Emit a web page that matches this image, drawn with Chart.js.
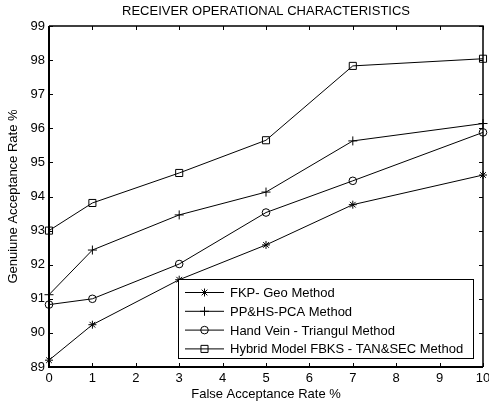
<!DOCTYPE html>
<html>
<head>
<meta charset="utf-8">
<script src="https://cdn.jsdelivr.net/npm/chart.js@4/dist/chart.umd.min.js"></script>
<style>
html,body{margin:0;padding:0;background:#fff;}
#wrap{width:489px;height:405px;position:relative;}
</style>
</head>
<body>
<div id="wrap"><canvas id="c" width="489" height="405"></canvas></div>
<script>
const xValues = [0, 1, 3, 5, 7, 10];
const fkpGeo = [89.2, 90.24, 91.56, 92.58, 93.76, 94.63];
const ppHsPca = [91.12, 92.43, 93.46, 94.13, 95.63, 96.14];
const handVein = [90.83, 91.0, 92.02, 93.53, 94.46, 95.88];
const hybrid = [93.0, 93.81, 94.69, 95.65, 97.83, 98.04];
const seriesLabels = ['FKP- Geo Method', 'PP&HS-PCA Method', 'Hand Vein - Triangul Method', 'Hybrid Model FBKS - TAN&SEC Method'];
const seriesStyles = ['star', 'cross', 'circle', 'rect'];
const xTicks = [0,1,2,3,4,5,6,7,8,9,10];
const yTicks = [89,90,91,92,93,94,95,96,97,98,99];
const titleText = 'RECEIVER OPERATIONAL CHARACTERISTICS';
const FONT = 'Arial, "Liberation Sans", sans-serif';

const seriesData = [fkpGeo, ppHsPca, handVein, hybrid];
const radii = [4, 4.5, 3.8, 5];

const datasets = seriesData.map((vals, i) => ({
  label: seriesLabels[i],
  data: xValues.map((x, j) => ({x: x, y: vals[j]})),
  borderColor: '#000',
  borderWidth: 1,
  pointStyle: seriesStyles[i],
  pointRadius: radii[i],
  pointBorderColor: '#000',
  pointBorderWidth: 1,
  pointBackgroundColor: 'rgba(0,0,0,0)',
  fill: false,
  tension: 0,
  clip: false
}));

const framePlugin = {
  id: 'frame',
  afterDraw(chart) {
    const ctx = chart.ctx;
    const a = chart.chartArea;
    const xs = chart.scales.x, ys = chart.scales.y;
    ctx.save();
    ctx.strokeStyle = '#000';
    ctx.lineWidth = 1;
    ctx.beginPath();
    xTicks.forEach(t => {
      const px = Math.round(xs.getPixelForValue(t)) + 0.5;
      ctx.moveTo(px, a.bottom); ctx.lineTo(px, a.bottom - 4);
      ctx.moveTo(px, a.top); ctx.lineTo(px, a.top + 4);
    });
    yTicks.forEach(t => {
      const py = Math.round(ys.getPixelForValue(t)) + 0.5;
      ctx.moveTo(a.left, py); ctx.lineTo(a.left + 4, py);
      ctx.moveTo(a.right, py); ctx.lineTo(a.right - 4, py);
    });
    ctx.stroke();
    ctx.lineWidth = 2;
    ctx.beginPath();
    ctx.moveTo(a.left, a.top); ctx.lineTo(a.left, a.bottom); ctx.lineTo(a.right, a.bottom);
    ctx.stroke();
    ctx.lineWidth = 1.5;
    ctx.beginPath();
    ctx.moveTo(a.left, a.top); ctx.lineTo(a.right, a.top); ctx.lineTo(a.right, a.bottom);
    ctx.stroke();
    ctx.fillStyle = '#000';
    ctx.font = '13px ' + FONT;
    ctx.textAlign = 'center';
    ctx.textBaseline = 'middle';
    ctx.fillText(titleText, (a.left + a.right) / 2, 11);
    const lx = 178, ly = 279, lw = 295, lh = 79;
    ctx.fillStyle = '#fff';
    ctx.fillRect(lx, ly, lw, lh);
    ctx.lineWidth = 1;
    ctx.strokeStyle = '#000';
    ctx.strokeRect(lx + 0.5, ly + 0.5, lw, lh);
    ctx.font = '13px ' + FONT;
    ctx.textAlign = 'left';
    chart.data.datasets.forEach((ds, i) => {
      const ry = 292.5 + i * 18.8;
      ctx.beginPath();
      ctx.moveTo(185, ry); ctx.lineTo(224, ry);
      ctx.lineWidth = 1;
      ctx.stroke();
      ctx.fillStyle = 'rgba(0,0,0,0)';
      Chart.helpers.drawPoint(ctx, {pointStyle: ds.pointStyle, radius: ds.pointRadius, borderWidth: 1, rotation: 0}, 204.5, ry);
      ctx.fillStyle = '#000';
      ctx.fillText(ds.label, 230, ry + 1);
    });
    ctx.restore();
  }
};

new Chart(document.getElementById('c'), {
  type: 'line',
  data: { datasets: datasets },
  options: {
    responsive: false,
    animation: false,
    events: [],
    layout: { padding: { top: 26, right: 5, left: 0, bottom: 0 } },
    plugins: { legend: { display: false }, title: { display: false }, tooltip: { enabled: false } },
    scales: {
      x: {
        type: 'linear', min: 0, max: 10,
        afterBuildTicks(s) { s.ticks = xTicks.map(v => ({value: v})); },
        afterFit(s) { s.height = 38; s.paddingLeft = 0; s.paddingRight = 0; },
        grid: { display: false, drawTicks: false },
        border: { display: false },
        ticks: { color: '#000', font: { size: 13, family: FONT }, padding: 4, maxRotation: 0, autoSkip: false },
        title: { display: true, text: 'False Acceptance Rate %', color: '#000', font: { size: 13, family: FONT }, padding: { top: 0, bottom: 3 } }
      },
      y: {
        type: 'linear', min: 89, max: 99,
        afterBuildTicks(s) { s.ticks = yTicks.map(v => ({value: v})); },
        afterFit(s) { s.width = 49; s.paddingTop = 0; s.paddingBottom = 0; },
        grid: { display: false, drawTicks: false },
        border: { display: false },
        ticks: { color: '#000', font: { size: 13, family: FONT }, padding: 4, autoSkip: false },
        title: { display: true, text: 'Genuiune Acceptance Rate %', color: '#000', font: { size: 13, family: FONT }, padding: { top: 6, bottom: 0 } }
      }
    }
  },
  plugins: [framePlugin]
});
</script>
</body>
</html>
